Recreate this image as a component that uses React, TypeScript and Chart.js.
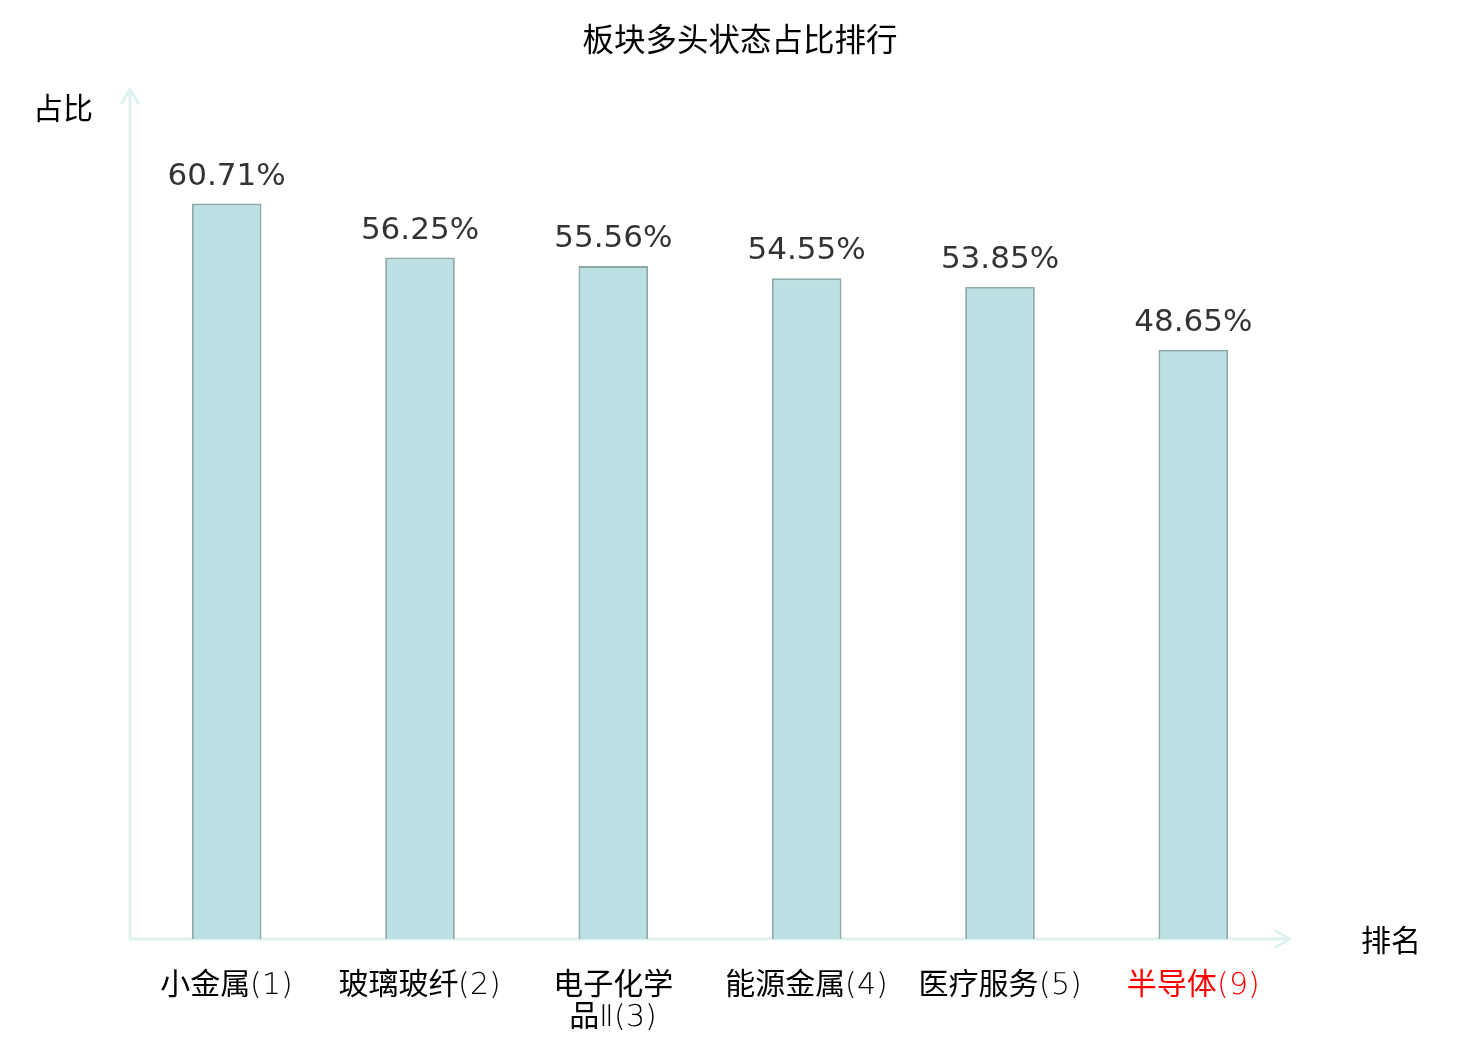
import * as React from 'react';
import { Chart, registerables } from 'chart.js';

Chart.register(...registerables);

const categories: (string | string[])[] = [
  '小金属(1)',
  '玻璃玻纤(2)',
  ['电子化学', '品Ⅱ(3)'],
  '能源金属(4)',
  '医疗服务(5)',
  '半导体(9)',
];
const shares = [60.71, 56.25, 55.56, 54.55, 53.85, 48.65];
const labelColors = ['#000', '#000', '#000', '#000', '#000', '#ff0000'];

const FONT = '"DejaVu Sans", "Noto Sans CJK SC", sans-serif';
// thin latin digits, regular CJK for the category labels
const LABEL_FONT = 'ThinLatin, "DejaVu Sans", "Noto Sans CJK SC", sans-serif';
const AXIS_COLOR = '#dff2f0';

// axis arrows, axis names, title and value labels
const decorPlugin = {
  id: 'decor',
  beforeDatasetsDraw(chart: Chart) {
    const { ctx, chartArea } = chart;
    const { left, right, bottom } = chartArea;
    const topY = chartArea.top - 2;
    const tipX = right;
    ctx.save();
    ctx.strokeStyle = AXIS_COLOR;
    ctx.lineWidth = 3;
    ctx.lineCap = 'round';
    ctx.lineJoin = 'round';
    ctx.beginPath();
    ctx.moveTo(left, bottom);
    ctx.lineTo(left, topY);
    ctx.moveTo(left - 8, topY + 14);
    ctx.lineTo(left, topY);
    ctx.lineTo(left + 8, topY + 14);
    ctx.moveTo(left, bottom);
    ctx.lineTo(tipX, bottom);
    ctx.moveTo(tipX - 14, bottom - 8);
    ctx.lineTo(tipX, bottom);
    ctx.lineTo(tipX - 14, bottom + 8);
    ctx.stroke();
    ctx.restore();
  },
  afterDraw(chart: Chart) {
    const { ctx, chartArea } = chart;
    ctx.save();
    ctx.fillStyle = '#000';
    ctx.textAlign = 'center';
    ctx.textBaseline = 'middle';
    ctx.font = `31.5px ${FONT}`;
    ctx.fillText('板块多头状态占比排行', 740, 43);
    ctx.font = `30px ${FONT}`;
    ctx.fillText('占比', 63, 111);
    ctx.fillText('排名', 1391, chartArea.bottom + 4);

    const meta = chart.getDatasetMeta(0);
    ctx.fillStyle = '#333';
    ctx.font = `31px ${FONT}`;
    ctx.textBaseline = 'alphabetic';
    meta.data.forEach((bar: any, i: number) => {
      ctx.fillText(shares[i].toFixed(2) + '%', bar.x, bar.y - 19);
    });
    ctx.restore();
  },
};

const App = () => {
  const canvasRef = React.useRef<HTMLCanvasElement>(null);
  const chartRef = React.useRef<Chart | null>(null);

  React.useEffect(() => {
    let cancelled = false;

    const build = () => {
      if (cancelled || !canvasRef.current) return;
      chartRef.current = new Chart(canvasRef.current, {
        type: 'bar',
        data: {
          labels: categories,
          datasets: [
            {
              data: shares,
              backgroundColor: '#bce0e3',
              borderColor: '#8ea9aa',
              borderWidth: 2,
              barPercentage: 0.36,
              categoryPercentage: 1,
            },
          ],
        },
        options: {
          responsive: true,
          maintainAspectRatio: false,
          animation: false,
          layout: { padding: { left: 130, right: 190, top: 91, bottom: 0 } },
          plugins: {
            legend: { display: false },
            tooltip: { enabled: false },
            title: { display: false },
          },
          scales: {
            x: {
              grid: { display: false, drawTicks: false },
              border: { display: false },
              ticks: {
                color: labelColors,
                font: { family: LABEL_FONT, size: 30, lineHeight: 1.07 },
                padding: 31,
                maxRotation: 0,
                autoSkip: false,
              },
              afterFit: (scale: any) => {
                scale.height = 101;
              },
            },
            y: {
              display: false,
              min: 0,
              max: 70,
            },
          },
        },
        plugins: [decorPlugin],
      });
    };

    const face = new FontFace(
      'ThinLatin',
      'local("DejaVu Sans ExtraLight"), local("DejaVuSans-ExtraLight")',
      { unicodeRange: 'U+0000-00FF, U+2160-2188' }
    );
    face
      .load()
      .then((f) => {
        document.fonts.add(f);
      })
      .catch(() => {})
      .finally(build);

    return () => {
      cancelled = true;
      chartRef.current?.destroy();
      chartRef.current = null;
    };
  }, []);

  return (
    <div style={{ position: 'fixed', left: 0, top: 0, width: 1480, height: 1040, background: '#fff' }}>
      <canvas ref={canvasRef}></canvas>
    </div>
  );
};

export default App;
